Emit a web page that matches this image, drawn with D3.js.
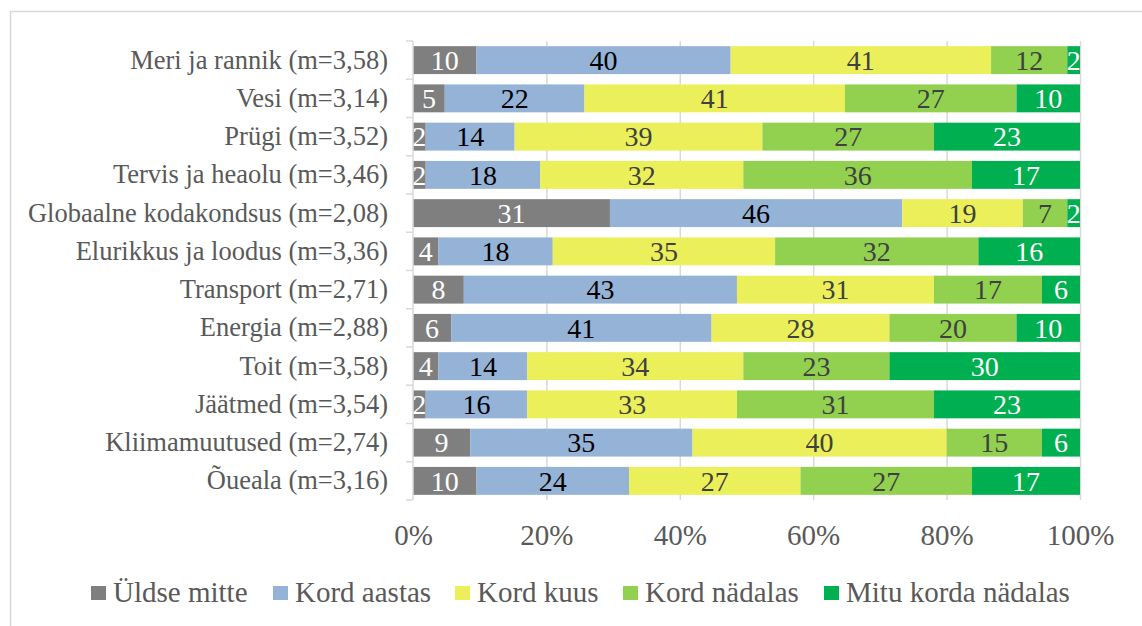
<!DOCTYPE html>
<html><head><meta charset="utf-8">
<script src="https://cdn.jsdelivr.net/npm/d3@7"></script>
<style>body{margin:0;background:#fff}svg{display:block}</style>
</head><body>
<script>
const categories = ["Meri ja rannik (m=3,58)","Vesi (m=3,14)","Prügi (m=3,52)","Tervis ja heaolu (m=3,46)","Globaalne kodakondsus (m=2,08)","Elurikkus ja loodus (m=3,36)","Transport (m=2,71)","Energia (m=2,88)","Toit (m=3,58)","Jäätmed (m=3,54)","Kliimamuutused (m=2,74)","Õueala (m=3,16)"];
const seriesNames = ["Üldse mitte","Kord aastas","Kord kuus","Kord nädalas","Mitu korda nädalas"];
const uldseMitte = [10,5,2,2,31,4,8,6,4,2,9,10];
const kordAastas = [40,22,14,18,46,18,43,41,14,16,35,24];
const kordKuus = [41,41,39,32,19,35,31,28,34,33,40,27];
const kordNadalas = [12,27,27,36,7,32,17,20,23,31,15,27];
const mituKorda = [2,10,23,17,2,16,6,10,30,23,6,17];
const tickValues = [0,0.2,0.4,0.6,0.8,1];
const colors = ["#7f7f7f","#95b3d7","#ebf05a","#92d050","#00b050"];
const labelColors = ["#ffffff","#000000","#404040","#404040","#ffffff"];

const W=1142,H=626;
const svg=d3.select("body").append("svg").attr("width",W).attr("height",H);
svg.append("rect").attr("x",10.5).attr("y",11.5).attr("width",1140).attr("height",630).attr("fill","#fff").attr("stroke","#d9d9d9").attr("stroke-width",1.5);

const font="'Liberation Serif','Times New Roman',serif";
const x=d3.scaleLinear().domain([0,1]).range([413,1080]);
const y=d3.scaleBand().domain(categories).range([41,500]).paddingInner(0.27).paddingOuter(0.135);

const series=[uldseMitte,kordAastas,kordKuus,kordNadalas,mituKorda];
const rows=categories.map((c,i)=>{const o={cat:c};seriesNames.forEach((s,k)=>o[s]=series[k][i]);return o;});
const stacked=d3.stack().keys(seriesNames).offset(d3.stackOffsetExpand)(rows);

// gridlines
svg.append("g").selectAll("line").data(tickValues.slice(1)).join("line")
 .attr("x1",d=>x(d)+0.5).attr("x2",d=>x(d)+0.5).attr("y1",41).attr("y2",500)
 .attr("stroke","#d9d9d9").attr("stroke-width",1.5);

// bars
stacked.forEach((s,k)=>{
  const g=svg.append("g");
  g.selectAll("rect").data(s).join("rect")
   .attr("x",d=>x(d[0])).attr("width",d=>x(d[1])-x(d[0]))
   .attr("y",d=>y(d.data.cat)).attr("height",y.bandwidth())
   .attr("fill",colors[k]);
  g.selectAll("text").data(s).join("text")
   .attr("x",d=>(x(d[0])+x(d[1]))/2).attr("y",d=>y(d.data.cat)+y.bandwidth()/2)
   .attr("dy","0.35em").attr("text-anchor","middle")
   .attr("font-family",font).attr("font-size",28).attr("fill",labelColors[k])
   .text(d=>d.data[seriesNames[k]]);
});

// y axis
const ya=svg.append("g").attr("transform","translate(413,0)")
 .call(d3.axisLeft(y).tickSize(0).tickPadding(25));
ya.select(".domain").remove();
ya.selectAll("text").attr("font-family",font).attr("font-size",26.5).attr("fill","#595959");
svg.append("line").attr("x1",413).attr("x2",413).attr("y1",41).attr("y2",500).attr("stroke","#d9d9d9").attr("stroke-width",1.5);
svg.append("g").selectAll("line").data(d3.range(13)).join("line")
 .attr("x1",406).attr("x2",413).attr("y1",i=>41+i*y.step()).attr("y2",i=>41+i*y.step())
 .attr("stroke","#d9d9d9").attr("stroke-width",1.5);

// x axis
const xa=svg.append("g").attr("transform","translate(0,500)")
 .call(d3.axisBottom(x).tickValues(tickValues).tickFormat(d3.format(".0%")).tickSize(0).tickPadding(24));
xa.select(".domain").remove();
xa.selectAll("text").attr("font-family",font).attr("font-size",29).attr("fill","#595959");

// legend
const legX=[91,273,455,623,824];
const leg=svg.append("g");
seriesNames.forEach((s,k)=>{
  leg.append("rect").attr("x",legX[k]).attr("y",586).attr("width",15).attr("height",14).attr("fill",colors[k]);
  leg.append("text").attr("x",legX[k]+22).attr("y",592).attr("dy","0.35em")
   .attr("font-family",font).attr("font-size",29).attr("fill","#595959").text(s);
});
</script>
</body></html>
